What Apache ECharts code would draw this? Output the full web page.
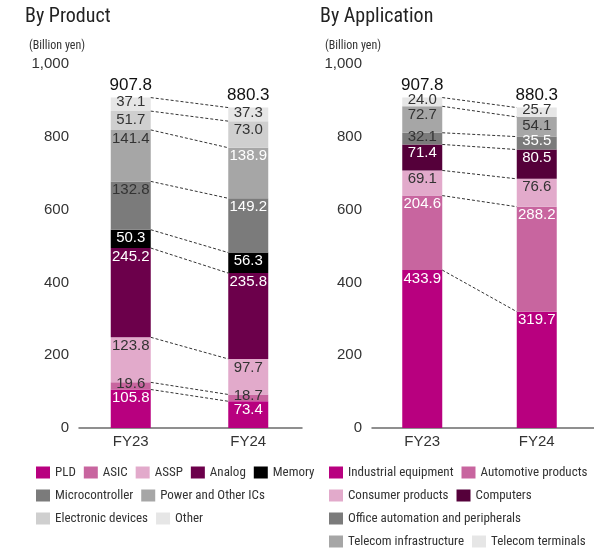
<!DOCTYPE html>
<html><head><meta charset="utf-8">
<script src="https://cdn.jsdelivr.net/npm/echarts@6/dist/echarts.min.js"></script>
<style>html,body{margin:0;padding:0;background:#fff}#c{width:594px;height:550px}</style>
</head><body><div id="c"></div>
<script>
// ---------- data ----------
const categories = ['FY23', 'FY24'];
const yMin = 0, yMax = 1000, yStep = 200;

// By Product
const productNames = ['PLD', 'ASIC', 'ASSP', 'Analog', 'Memory', 'Microcontroller', 'Power and Other ICs', 'Electronic devices', 'Other'];
const pld = [105.8, 73.4];
const asic = [19.6, 18.7];
const assp = [123.8, 97.7];
const analog = [245.2, 235.8];
const memory = [50.3, 56.3];
const microcontroller = [132.8, 149.2];
const powerOther = [141.4, 138.9];
const electronicDevices = [51.7, 73.0];
const otherProduct = [37.1, 37.3];
const productTotals = [907.8, 880.3];

// By Application
const appNames = ['Industrial equipment', 'Automotive products', 'Consumer products', 'Computers', 'Office automation and peripherals', 'Telecom infrastructure', 'Telecom terminals'];
const industrial = [433.9, 319.7];
const automotive = [204.6, 288.2];
const consumer = [69.1, 76.6];
const computers = [71.4, 80.5];
const officeAutomation = [32.1, 35.5];
const telecomInfra = [72.7, 54.1];
const telecomTerminals = [24.0, 25.7];
const appTotals = [907.8, 880.3];

// ---------- styles ----------
const W = '#ffffff', D = '#333333';
const productColors = ['#b8007f', '#c8659f', '#e2aacb', '#6c004b', '#000000', '#7b7b7b', '#a6a6a6', '#cfcfcf', '#e6e6e6'];
const productLabelColors = [[W, W], [D, D], [D, D], [W, W], [W, W], [D, W], [D, W], [D, D], [D, D]];
const appColors = ['#b8007f', '#c8659f', '#e2aacb', '#55003a', '#7b7b7b', '#a6a6a6', '#e6e6e6'];
const appLabelColors = [[W, W], [W, W], [D, D], [W, W], [D, W], [D, D], [D, D]];

const NUM_FONT = "'Liberation Sans', Arial, sans-serif";
const NARROW_FONT = "'Liberation Sans Narrow', 'Roboto Condensed', 'Liberation Sans', sans-serif";
const BAR_W = 40;

function buildBars(names, arrays, colors, labelColors, stack, axisIdx) {
  return names.map((name, s) => ({
    type: 'bar', name, stack, xAxisIndex: axisIdx, yAxisIndex: axisIdx,
    barWidth: BAR_W, itemStyle: { color: colors[s] },
    emphasis: { disabled: true },
    data: arrays[s].map((v, i) => {
      const small = v < 40;
      return {
        value: v,
        label: {
          show: true,
          position: small ? 'inside' : 'insideTop',
          distance: 1,
          offset: small ? [0, -2] : [0, 0],
          color: labelColors[s][i],
          fontSize: 15,
          fontFamily: NUM_FONT,
          formatter: p => p.value.toFixed(1)
        }
      };
    })
  }));
}

function buildConnectors(arrays, axisIdx) {
  const data = [];
  let c0 = 0, c1 = 0;
  arrays.forEach(a => { c0 += a[0]; c1 += a[1]; data.push([0, c0, c1]); });
  return {
    type: 'custom', xAxisIndex: axisIdx, yAxisIndex: axisIdx, silent: true, z: 5,
    encode: { x: 0, y: [1, 2] },
    data,
    renderItem: (params, api) => {
      const a = api.coord([0, api.value(1)]);
      const b = api.coord([1, api.value(2)]);
      return {
        type: 'line',
        shape: { x1: a[0] + BAR_W / 2, y1: a[1], x2: b[0] - BAR_W / 2, y2: b[1] },
        style: { stroke: '#333', lineWidth: 1, lineDash: [3, 2] }
      };
    }
  };
}

function buildTotals(totals, axisIdx) {
  return {
    type: 'custom', xAxisIndex: axisIdx, yAxisIndex: axisIdx, silent: true, z: 6,
    encode: { x: 0, y: 1 },
    data: totals.map((t, i) => [i, t]),
    renderItem: (params, api) => {
      const p = api.coord([api.value(0), api.value(1)]);
      return {
        type: 'text', x: p[0], y: p[1] - 4,
        style: { text: api.value(1).toFixed(1), fill: '#111', font: '17px ' + NUM_FONT, align: 'center', verticalAlign: 'bottom' }
      };
    }
  };
}

const productArrays = [pld, asic, assp, analog, memory, microcontroller, powerOther, electronicDevices, otherProduct];
const appArrays = [industrial, automotive, consumer, computers, officeAutomation, telecomInfra, telecomTerminals];

const catAxis = (gridIndex) => ({
  type: 'category', gridIndex, data: categories,
  axisLine: { show: false }, axisTick: { show: false },
  axisLabel: { color: '#333', fontSize: 15, fontFamily: NUM_FONT, margin: 6 }
});
const lineAxis = (gridIndex) => ({
  type: 'value', gridIndex, min: 0, max: 1,
  axisLine: { show: true, lineStyle: { color: '#6b6b6b', width: 1.5 } },
  axisTick: { show: false }, axisLabel: { show: false }, splitLine: { show: false }
});
const valAxis = (gridIndex) => ({
  type: 'value', gridIndex, min: yMin, max: yMax, interval: yStep,
  axisLine: { show: false }, axisTick: { show: false }, splitLine: { show: false },
  axisLabel: { color: '#333', fontSize: 15, fontFamily: NUM_FONT, margin: 3, formatter: v => v.toLocaleString('en-US') }
});
const hiddenY = (gridIndex) => ({ type: 'value', gridIndex, show: false, min: 0, max: 1 });

const legendBase = (left, top, data) => ({
  left, top, data, width: 300, padding: 0, itemGap: 8, itemWidth: 14, itemHeight: 12, icon: 'rect',
  selectedMode: false,
  textStyle: { fontSize: 13, color: '#333', fontFamily: NARROW_FONT, padding: [0, 0, 0, 0] }
});

const titleStyle = { fontSize: 20, fontWeight: 'normal', color: '#222', fontFamily: NARROW_FONT };
const unitStyle = { fontSize: 12, fontWeight: 'normal', color: '#333', fontFamily: NARROW_FONT };

const option = {
  animation: false,
  title: [
    { text: 'By Product', left: 25, top: 7, padding: 0, textStyle: titleStyle },
    { text: '(Billion yen)', left: 29, top: 40, padding: 0, textStyle: unitStyle },
    { text: 'By Application', left: 320, top: 7, padding: 0, textStyle: titleStyle },
    { text: '(Billion yen)', left: 325, top: 40, padding: 0, textStyle: unitStyle }
  ],
  grid: [
    { left: 72, width: 235, top: 64, height: 364 },
    { left: 79, width: 223, top: 64, height: 364 },
    { left: 365, width: 235, top: 64, height: 364 },
    { left: 372, width: 222, top: 64, height: 364 }
  ],
  xAxis: [catAxis(0), lineAxis(1), catAxis(2), lineAxis(3)],
  yAxis: [valAxis(0), hiddenY(1), valAxis(2), hiddenY(3)],
  legend: [
    legendBase(36, 466, productNames.slice(0, 5)),
    legendBase(36, 489, productNames.slice(5, 7)),
    legendBase(36, 512, productNames.slice(7, 9)),
    legendBase(329, 466, appNames.slice(0, 2)),
    legendBase(329, 489, appNames.slice(2, 4)),
    legendBase(329, 512, appNames.slice(4, 5)),
    legendBase(329, 535, appNames.slice(5, 7))
  ],
  series: [
    ...buildBars(productNames, productArrays, productColors, productLabelColors, 'product', 0),
    buildConnectors(productArrays, 0),
    buildTotals(productTotals, 0),
    ...buildBars(appNames, appArrays, appColors, appLabelColors, 'app', 2),
    buildConnectors(appArrays, 2),
    buildTotals(appTotals, 2)
  ]
};

const chart = echarts.init(document.getElementById('c'), null, { renderer: 'canvas' });
chart.setOption(option);
</script>
</body></html>
